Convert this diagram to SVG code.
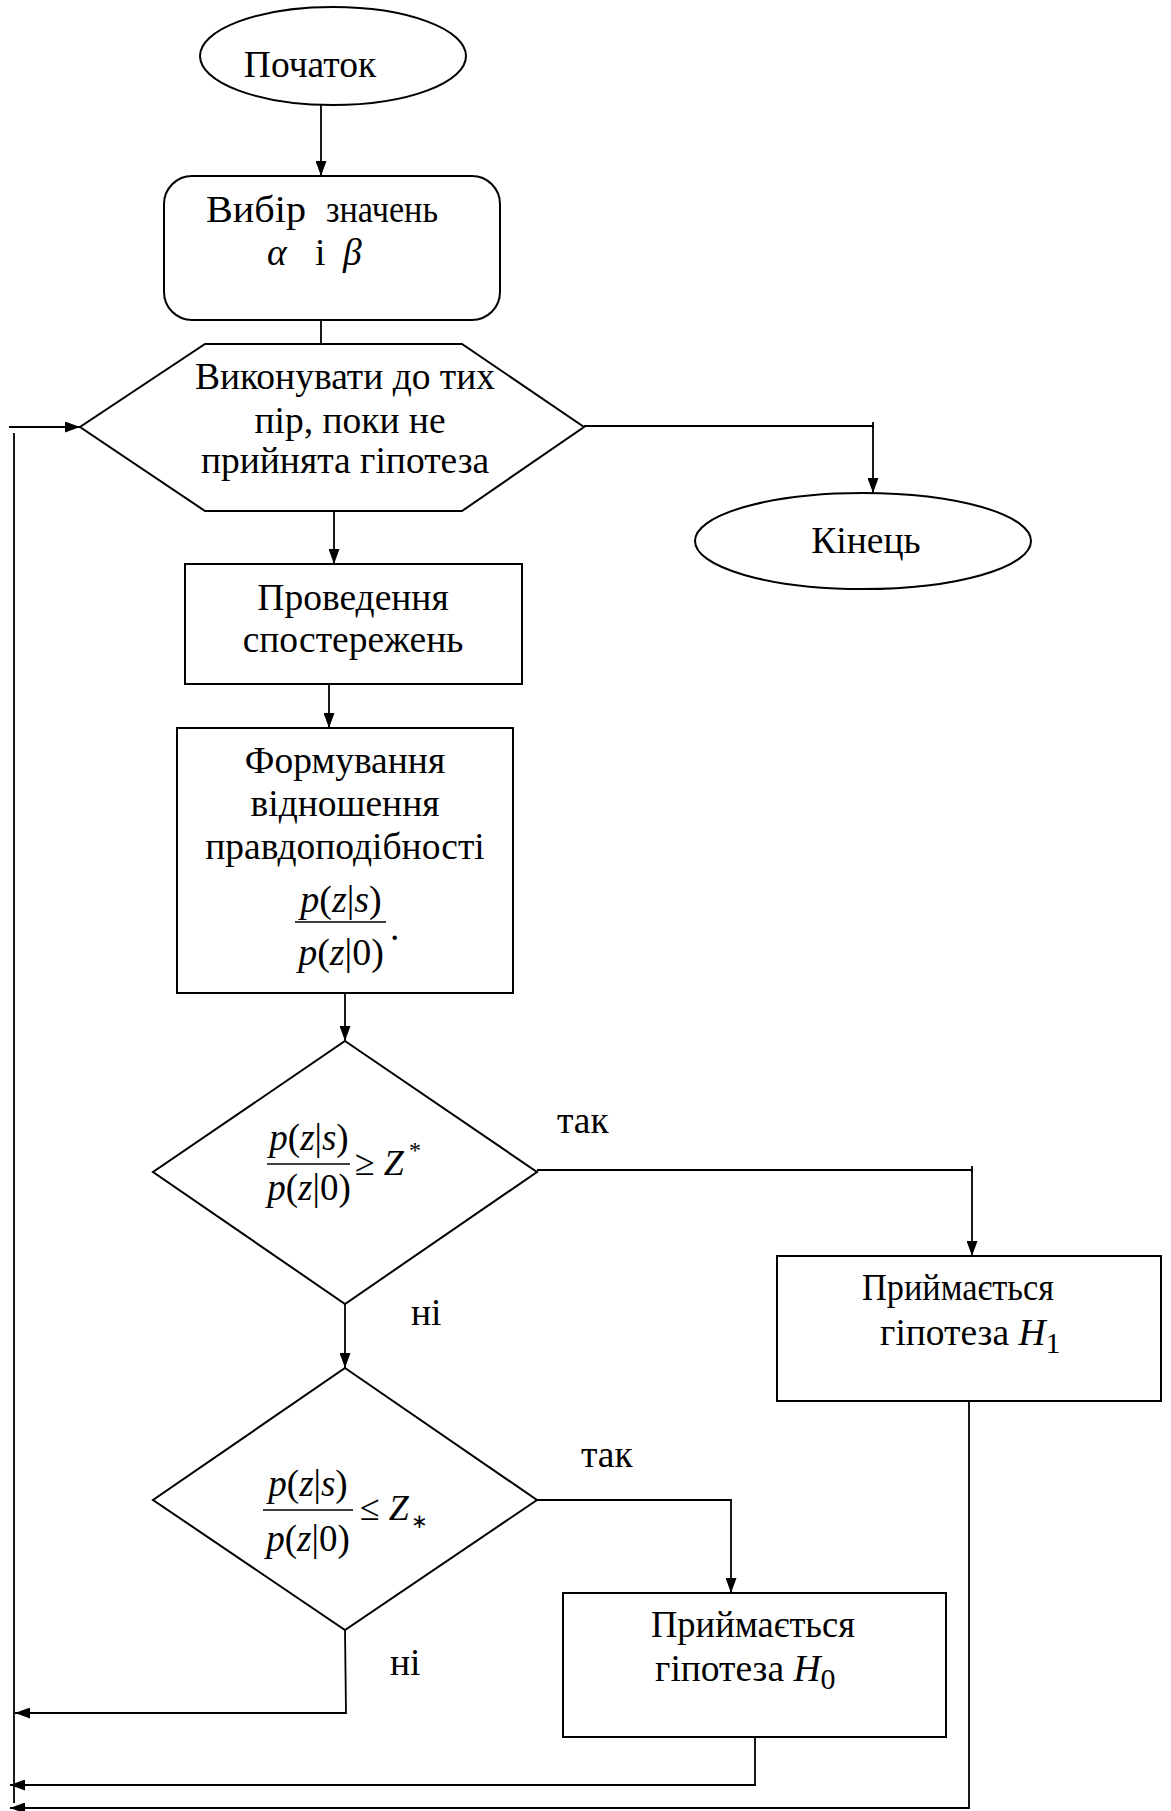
<svg xmlns="http://www.w3.org/2000/svg" width="1171" height="1811" viewBox="0 0 1171 1811">
<style>
.shape{fill:#fff;stroke:#000;stroke-width:2}
.conn{fill:none;stroke:#000;stroke-width:1.8}
text{font-family:"Liberation Serif","Times New Roman",serif;font-size:37.5px;fill:#000}
.c{text-anchor:middle}
.i{font-style:italic}
.f{font-size:37px}
.bar{stroke:#000;stroke-width:1.5}
</style>
<defs>
<marker id="ah" viewBox="0 0 15 11" refX="15" refY="5.5" markerWidth="15" markerHeight="11" markerUnits="userSpaceOnUse" orient="auto">
<path d="M0,0 L15,5.5 L0,11 z" fill="#000"/>
</marker>
</defs>
<rect width="1171" height="1811" fill="#fff"/>

<g id="connectors">
<line class="conn" x1="321" y1="105" x2="321" y2="176" marker-end="url(#ah)"/>
<line class="conn" x1="321" y1="320" x2="321" y2="344"/>
<line class="conn" x1="9" y1="427" x2="80" y2="427" marker-end="url(#ah)"/>
<polyline class="conn" points="584,426 873,426 873,493" marker-end="url(#ah)"/>
<line class="conn" x1="873" y1="422" x2="873" y2="428"/>
<line class="conn" x1="334" y1="512" x2="334" y2="564" marker-end="url(#ah)"/>
<line class="conn" x1="329" y1="684" x2="329" y2="728" marker-end="url(#ah)"/>
<line class="conn" x1="345" y1="993" x2="345" y2="1041" marker-end="url(#ah)"/>
<polyline class="conn" points="537,1170 972,1170 972,1256" marker-end="url(#ah)"/>
<line class="conn" x1="972" y1="1166" x2="972" y2="1172"/>
<line class="conn" x1="345" y1="1304" x2="345" y2="1368" marker-end="url(#ah)"/>
<polyline class="conn" points="537,1500 731,1500 731,1593" marker-end="url(#ah)"/>
<line class="conn" x1="14" y1="433" x2="14" y2="1803"/>
<polyline class="conn" points="345,1630 346,1713 15,1713" marker-end="url(#ah)"/>
<polyline class="conn" points="755,1737 755,1785 10,1785" marker-end="url(#ah)"/>
<polyline class="conn" points="969,1401 969,1808 10,1808" marker-end="url(#ah)"/>
<text x="557" y="1133">так</text>
<text x="411" y="1325">ні</text>
<text x="581" y="1467">так</text>
<text x="390" y="1675">ні</text>
</g>

<g id="start">
<ellipse class="shape" cx="333" cy="56" rx="133" ry="49"/>
<text class="c" x="310" y="77">Початок</text>
</g>

<g id="choose">
<rect class="shape" x="164" y="176" width="336" height="144" rx="28" ry="28"/>
<text x="206" y="222" textLength="100" lengthAdjust="spacingAndGlyphs">Вибір</text>
<text x="326" y="222" textLength="112" lengthAdjust="spacingAndGlyphs">значень</text>
<text x="267" y="265"><tspan class="i">α</tspan><tspan x="315">і</tspan><tspan class="i" x="343">β</tspan></text>
</g>

<g id="loop">
<polygon class="shape" points="205,344 462,344 584,427 462,511 205,511 80,427"/>
<text class="c" x="345" y="389">Виконувати до тих</text>
<text class="c" x="350" y="433">пір, поки не</text>
<text class="c" x="345" y="473">прийнята гіпотеза</text>
</g>

<g id="end">
<ellipse class="shape" cx="863" cy="541" rx="168" ry="48"/>
<text class="c" x="866" y="553">Кінець</text>
</g>

<g id="observe">
<rect class="shape" x="185" y="564" width="337" height="120"/>
<text class="c" x="353" y="610">Проведення</text>
<text class="c" x="353" y="652">спостережень</text>
</g>

<g id="form">
<rect class="shape" x="177" y="728" width="336" height="265"/>
<text class="c" x="345" y="773">Формування</text>
<text class="c" x="345" y="816">відношення</text>
<text class="c" x="345" y="859">правдоподібності</text>
<text class="c" x="341" y="912" style="font-size:38px"><tspan class="i">p</tspan>(<tspan class="i">z</tspan>|<tspan class="i">s</tspan>)</text>
<line class="bar" x1="295" y1="922" x2="386" y2="922"/>
<text class="c" x="341" y="965" style="font-size:38px"><tspan class="i">p</tspan>(<tspan class="i">z</tspan>|0)</text>
<text x="390" y="940">.</text>
</g>

<g id="test1">
<polygon class="shape" points="345,1041 537,1172 345,1304 153,1172"/>
<text class="c f" x="309" y="1150"><tspan class="i">p</tspan>(<tspan class="i">z</tspan>|<tspan class="i">s</tspan>)</text>
<line class="bar" x1="267" y1="1164" x2="350" y2="1164"/>
<text class="c f" x="309" y="1200"><tspan class="i">p</tspan>(<tspan class="i">z</tspan>|0)</text>
<text x="355" y="1175" style="font-size:36px">≥ <tspan class="i">Z</tspan></text>
<text x="409" y="1158" style="font-size:24px">*</text>
</g>

<g id="h1">
<rect class="shape" x="777" y="1256" width="384" height="145"/>
<text class="c" x="958" y="1300" textLength="192" lengthAdjust="spacingAndGlyphs">Приймається</text>
<text x="880" y="1345">гіпотеза <tspan class="i">H</tspan><tspan dy="8" style="font-size:30px">1</tspan></text>
</g>

<g id="test2">
<polygon class="shape" points="345,1368 537,1500 345,1630 153,1500"/>
<text class="c f" x="308" y="1496"><tspan class="i">p</tspan>(<tspan class="i">z</tspan>|<tspan class="i">s</tspan>)</text>
<line class="bar" x1="263" y1="1510" x2="353" y2="1510"/>
<text class="c f" x="308" y="1551"><tspan class="i">p</tspan>(<tspan class="i">z</tspan>|0)</text>
<text x="360" y="1520" style="font-size:36px">≤ <tspan class="i">Z</tspan></text>
<text x="411" y="1528" style="font-size:20px">∗</text>
</g>

<g id="h0">
<rect class="shape" x="563" y="1593" width="383" height="144"/>
<text class="c" x="753" y="1637" textLength="204" lengthAdjust="spacingAndGlyphs">Приймається</text>
<text x="655" y="1681">гіпотеза <tspan class="i">H</tspan><tspan dy="8" style="font-size:30px">0</tspan></text>
</g>
</svg>
